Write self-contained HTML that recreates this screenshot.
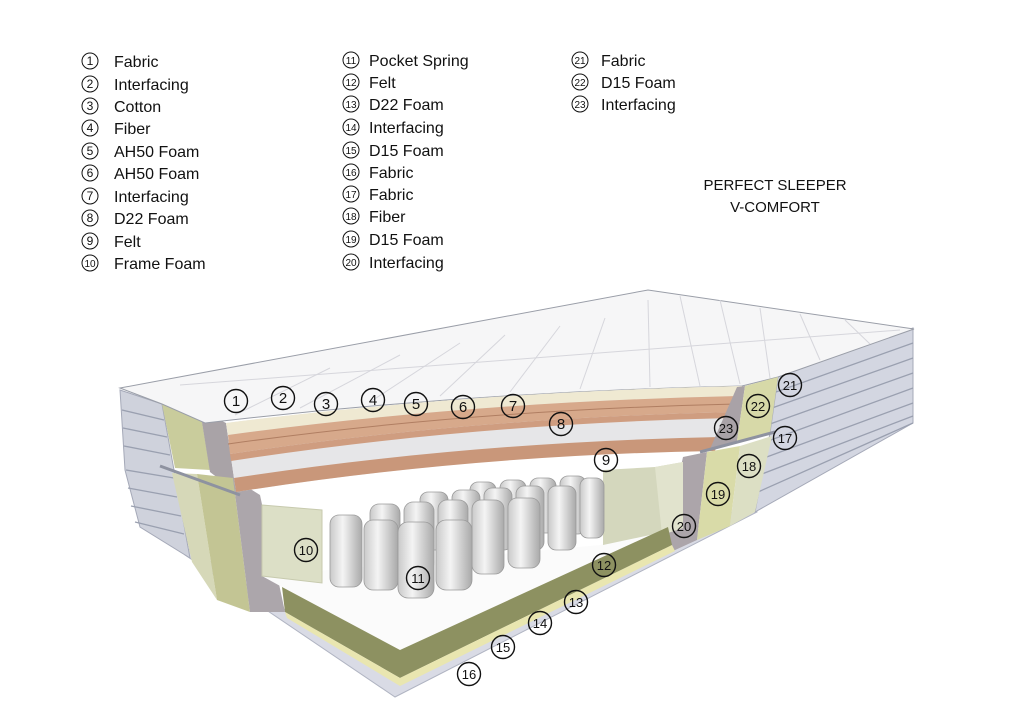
<!DOCTYPE html>
<html><head><meta charset="utf-8"><style>
html,body{margin:0;padding:0;background:#fff;}
svg{display:block;font-family:"Liberation Sans","DejaVu Sans",sans-serif;}
.lg{font-size:16px;fill:#111;}
.c{fill:none;stroke:#111;stroke-width:1;}
.n{font-size:12px;fill:#111;text-anchor:middle;}
.dc{fill:none;stroke:#111;stroke-width:1.4;}
.dn{font-size:15px;fill:#111;text-anchor:middle;}
.g{stroke:#d6d6dc;stroke-width:1;fill:none;}
.st{stroke:#9aa0b0;stroke-width:1.3;fill:none;}
</style></head><body>
<svg width="1024" height="724" viewBox="0 0 1024 724">
<defs>
<linearGradient id="sp" x1="0" x2="1"><stop offset="0" stop-color="#c9c9c9"/><stop offset="0.4" stop-color="#f4f4f4"/><stop offset="1" stop-color="#a9a9a9"/></linearGradient>
</defs>
<g>
<circle class="c" cx="90" cy="61" r="8"/><text class="n" x="90" y="65">1</text><text class="lg" x="114" y="67">Fabric</text>
<circle class="c" cx="90" cy="84" r="8"/><text class="n" x="90" y="88">2</text><text class="lg" x="114" y="90">Interfacing</text>
<circle class="c" cx="90" cy="106" r="8"/><text class="n" x="90" y="110">3</text><text class="lg" x="114" y="112">Cotton</text>
<circle class="c" cx="90" cy="128" r="8"/><text class="n" x="90" y="132">4</text><text class="lg" x="114" y="134">Fiber</text>
<circle class="c" cx="90" cy="151" r="8"/><text class="n" x="90" y="155">5</text><text class="lg" x="114" y="157">AH50 Foam</text>
<circle class="c" cx="90" cy="173" r="8"/><text class="n" x="90" y="177">6</text><text class="lg" x="114" y="179">AH50 Foam</text>
<circle class="c" cx="90" cy="196" r="8"/><text class="n" x="90" y="200">7</text><text class="lg" x="114" y="202">Interfacing</text>
<circle class="c" cx="90" cy="218" r="8"/><text class="n" x="90" y="222">8</text><text class="lg" x="114" y="224">D22 Foam</text>
<circle class="c" cx="90" cy="241" r="8"/><text class="n" x="90" y="245">9</text><text class="lg" x="114" y="247">Felt</text>
<circle class="c" cx="90" cy="263" r="8"/><text class="n" x="90" y="267" style="font-size:10px">10</text><text class="lg" x="114" y="269">Frame Foam</text>

<circle class="c" cx="351" cy="60" r="8"/><text class="n" x="351" y="64" style="font-size:10px">11</text><text class="lg" x="369" y="66">Pocket Spring</text>
<circle class="c" cx="351" cy="82" r="8"/><text class="n" x="351" y="86" style="font-size:10px">12</text><text class="lg" x="369" y="88">Felt</text>
<circle class="c" cx="351" cy="104" r="8"/><text class="n" x="351" y="108" style="font-size:10px">13</text><text class="lg" x="369" y="110">D22 Foam</text>
<circle class="c" cx="351" cy="127" r="8"/><text class="n" x="351" y="131" style="font-size:10px">14</text><text class="lg" x="369" y="133">Interfacing</text>
<circle class="c" cx="351" cy="150" r="8"/><text class="n" x="351" y="154" style="font-size:10px">15</text><text class="lg" x="369" y="156">D15 Foam</text>
<circle class="c" cx="351" cy="172" r="8"/><text class="n" x="351" y="176" style="font-size:10px">16</text><text class="lg" x="369" y="178">Fabric</text>
<circle class="c" cx="351" cy="194" r="8"/><text class="n" x="351" y="198" style="font-size:10px">17</text><text class="lg" x="369" y="200">Fabric</text>
<circle class="c" cx="351" cy="216" r="8"/><text class="n" x="351" y="220" style="font-size:10px">18</text><text class="lg" x="369" y="222">Fiber</text>
<circle class="c" cx="351" cy="239" r="8"/><text class="n" x="351" y="243" style="font-size:10px">19</text><text class="lg" x="369" y="245">D15 Foam</text>
<circle class="c" cx="351" cy="262" r="8"/><text class="n" x="351" y="266" style="font-size:10px">20</text><text class="lg" x="369" y="268">Interfacing</text>

<circle class="c" cx="580" cy="60" r="8"/><text class="n" x="580" y="64" style="font-size:10px">21</text><text class="lg" x="601" y="66">Fabric</text>
<circle class="c" cx="580" cy="82" r="8"/><text class="n" x="580" y="86" style="font-size:10px">22</text><text class="lg" x="601" y="88">D15 Foam</text>
<circle class="c" cx="580" cy="104" r="8"/><text class="n" x="580" y="108" style="font-size:10px">23</text><text class="lg" x="601" y="110">Interfacing</text>

<text x="775" y="190" style="font-size:15px" text-anchor="middle" fill="#111">PERFECT SLEEPER</text>
<text x="775" y="212" style="font-size:15px" text-anchor="middle" fill="#111">V-COMFORT</text>
</g>

<!-- base slab -->
<polygon points="185,555 395,697 757,512 755,500 400,685 190,548" fill="#d9dbe5" stroke="#b0b4c2"/>
<!-- right side face -->
<polygon points="778,377 913,328 913,423 755,512 770,433" fill="#d3d6e1" stroke="#a5a9b8"/>
<g class="st">
<line x1="776" y1="392" x2="913" y2="343"/><line x1="772" y1="408" x2="913" y2="358"/><line x1="770" y1="424" x2="913" y2="373"/>
<line x1="768" y1="441" x2="913" y2="388"/><line x1="764" y1="458" x2="913" y2="403"/><line x1="762" y1="474" x2="913" y2="416"/><line x1="758" y1="492" x2="913" y2="423"/>
</g>
<!-- left side face -->
<polygon points="120,390 162,404 190,558 140,527 125,470" fill="#cfd2dc" stroke="#a5a9b8"/>
<g class="st">
<line x1="122" y1="410" x2="164" y2="420"/><line x1="123" y1="428" x2="167" y2="437"/><line x1="124" y1="446" x2="170" y2="455"/>
<line x1="126" y1="470" x2="174" y2="478"/><line x1="128" y1="488" x2="177" y2="497"/><line x1="131" y1="506" x2="181" y2="516"/><line x1="135" y1="522" x2="184" y2="534"/>
</g>
<!-- left cut strips upper -->
<polygon points="162,404 200,410 210,470 175,468" fill="#c9cc9c"/>
<polygon points="200,410 226,423 236,492 210,472" fill="#a9a3a7"/>
<!-- left cut strips lower -->
<polygon points="172,473 197,474 217,600 192,562" fill="#d6d8b8"/>
<polygon points="197,474 233,478 250,612 217,600" fill="#c3c594"/>
<polygon points="233,478 260,495 285,612 250,612" fill="#aca6ab"/>
<line x1="160" y1="466" x2="240" y2="495" stroke="#8e92a0" stroke-width="3"/>
<!-- top surface -->
<path d="M120,388 L648,290 L914,329 L778,377 L742,386 Q470,392 205,423 L162,404 Z" fill="#f6f6f7" stroke="#9a9ea8"/>
<g class="g">
<line x1="235" y1="415" x2="330" y2="368"/><line x1="300" y1="408" x2="400" y2="355"/><line x1="370" y1="402" x2="460" y2="343"/>
<line x1="440" y1="396" x2="505" y2="335"/><line x1="510" y1="392" x2="560" y2="326"/><line x1="580" y1="389" x2="605" y2="318"/>
<line x1="650" y1="387" x2="648" y2="300"/><line x1="700" y1="386" x2="680" y2="296"/><line x1="740" y1="384" x2="720" y2="300"/>
<line x1="770" y1="378" x2="760" y2="308"/><line x1="820" y1="360" x2="800" y2="314"/><line x1="870" y1="344" x2="845" y2="320"/>
<line x1="180" y1="385" x2="900" y2="330"/>
</g>
<!-- upper curved band -->
<path d="M226,423 Q470,392 742,386 L715,450 Q470,455 236,492 Z" fill="#e6e6e8"/>
<path d="M226,423 Q470,392 742,386 L738,396 Q470,402 228,435 Z" fill="#efe9d2"/>
<path d="M228,435 Q470,402 738,396 L733,412 Q470,418 230,454 Z" fill="#d7a98b"/>
<path d="M228,444 Q470,410 736,404" stroke="#b07e62" fill="none"/>
<path d="M230,454 Q470,418 733,412 L731,418 Q470,424 231,461 Z" fill="#cf9d80"/>
<path d="M234,478 Q470,442 720,437 L715,451 Q470,455 236,492 Z" fill="#c9977a"/>
<!-- right cut strips upper -->
<polygon points="737,387 745,386 737,441 710,449" fill="#a9a2a7"/>
<polygon points="745,386 778,377 770,433 737,441" fill="#d7d9a8"/>
<line x1="700" y1="452" x2="775" y2="432" stroke="#8e92a0" stroke-width="3"/>
<!-- right cut strips lower -->
<polygon points="683,457 707,452 697,540 662,556" fill="#aca5aa"/>
<polygon points="707,452 740,446 730,526 697,540" fill="#d9dba8"/>
<polygon points="740,446 772,436 755,512 730,526" fill="#dcdfc4"/>
<!-- white floor -->
<polygon points="262,576 600,545 668,527 400,650 282,587" fill="#fbfbfb"/>
<!-- lower frame foam blocks -->
<polygon points="262,505 322,510 322,583 262,576" fill="#dcdfc6" stroke="#c7caae"/>
<polygon points="603,470 655,467 683,462 683,528 603,545" fill="#d4d7bd"/>
<polygon points="655,467 683,462 683,528 662,535" fill="#e1e3cd"/>
<!-- olive band -->
<polygon points="282,587 400,650 668,527 672,545 400,678 285,612" fill="#8d9161"/>
<polygon points="285,612 400,678 672,545 675,551 400,686 287,618" fill="#e9e6b0"/>
<!-- springs -->
<g stroke="#9a9a9a" stroke-width="0.8" fill="url(#sp)">
<rect x="470" y="482" width="26" height="50" rx="8"/><rect x="500" y="480" width="26" height="52" rx="8"/><rect x="530" y="478" width="26" height="55" rx="8"/><rect x="560" y="476" width="26" height="58" rx="8"/><rect x="580" y="478" width="24" height="60" rx="8"/>
<rect x="420" y="492" width="28" height="58" rx="8"/><rect x="452" y="490" width="28" height="60" rx="8"/><rect x="484" y="488" width="28" height="62" rx="8"/><rect x="516" y="486" width="28" height="64" rx="8"/><rect x="548" y="486" width="28" height="64" rx="8"/>
<rect x="370" y="504" width="30" height="68" rx="9"/><rect x="404" y="502" width="30" height="70" rx="9"/><rect x="438" y="500" width="30" height="72" rx="9"/><rect x="472" y="500" width="32" height="74" rx="9"/><rect x="508" y="498" width="32" height="70" rx="9"/>
<rect x="330" y="515" width="32" height="72" rx="9"/><rect x="364" y="520" width="34" height="70" rx="9"/><rect x="398" y="522" width="36" height="76" rx="10"/><rect x="436" y="520" width="36" height="70" rx="10"/>
</g>
<!-- diagram labels -->
<g>
<circle class="dc" cx="236" cy="401" r="11.5"/><text class="dn" x="236" y="406">1</text>
<circle class="dc" cx="283" cy="398" r="11.5"/><text class="dn" x="283" y="403">2</text>
<circle class="dc" cx="326" cy="404" r="11.5"/><text class="dn" x="326" y="409">3</text>
<circle class="dc" cx="373" cy="400" r="11.5"/><text class="dn" x="373" y="405">4</text>
<circle class="dc" cx="416" cy="404" r="11.5"/><text class="dn" x="416" y="409">5</text>
<circle class="dc" cx="463" cy="407" r="11.5"/><text class="dn" x="463" y="412">6</text>
<circle class="dc" cx="513" cy="406" r="11.5"/><text class="dn" x="513" y="411">7</text>
<circle class="dc" cx="561" cy="424" r="11.5"/><text class="dn" x="561" y="429">8</text>
<circle class="dc" cx="606" cy="460" r="11.5"/><text class="dn" x="606" y="465">9</text>
<circle class="dc" cx="306" cy="550" r="11.5"/><text class="dn" x="306" y="555" style="font-size:13px">10</text>
<circle class="dc" cx="418" cy="578" r="11.5"/><text class="dn" x="418" y="583" style="font-size:13px">11</text>
<circle class="dc" cx="604" cy="565" r="11.5"/><text class="dn" x="604" y="570" style="font-size:13px">12</text>
<circle class="dc" cx="576" cy="602" r="11.5"/><text class="dn" x="576" y="607" style="font-size:13px">13</text>
<circle class="dc" cx="540" cy="623" r="11.5"/><text class="dn" x="540" y="628" style="font-size:13px">14</text>
<circle class="dc" cx="503" cy="647" r="11.5"/><text class="dn" x="503" y="652" style="font-size:13px">15</text>
<circle class="dc" cx="469" cy="674" r="11.5"/><text class="dn" x="469" y="679" style="font-size:13px">16</text>
<circle class="dc" cx="785" cy="438" r="11.5"/><text class="dn" x="785" y="443" style="font-size:13px">17</text>
<circle class="dc" cx="749" cy="466" r="11.5"/><text class="dn" x="749" y="471" style="font-size:13px">18</text>
<circle class="dc" cx="718" cy="494" r="11.5"/><text class="dn" x="718" y="499" style="font-size:13px">19</text>
<circle class="dc" cx="684" cy="526" r="11.5"/><text class="dn" x="684" y="531" style="font-size:13px">20</text>
<circle class="dc" cx="790" cy="385" r="11.5"/><text class="dn" x="790" y="390" style="font-size:13px">21</text>
<circle class="dc" cx="758" cy="406" r="11.5"/><text class="dn" x="758" y="411" style="font-size:13px">22</text>
<circle class="dc" cx="726" cy="428" r="11.5"/><text class="dn" x="726" y="433" style="font-size:13px">23</text>
</g>
</svg>
</body></html>
